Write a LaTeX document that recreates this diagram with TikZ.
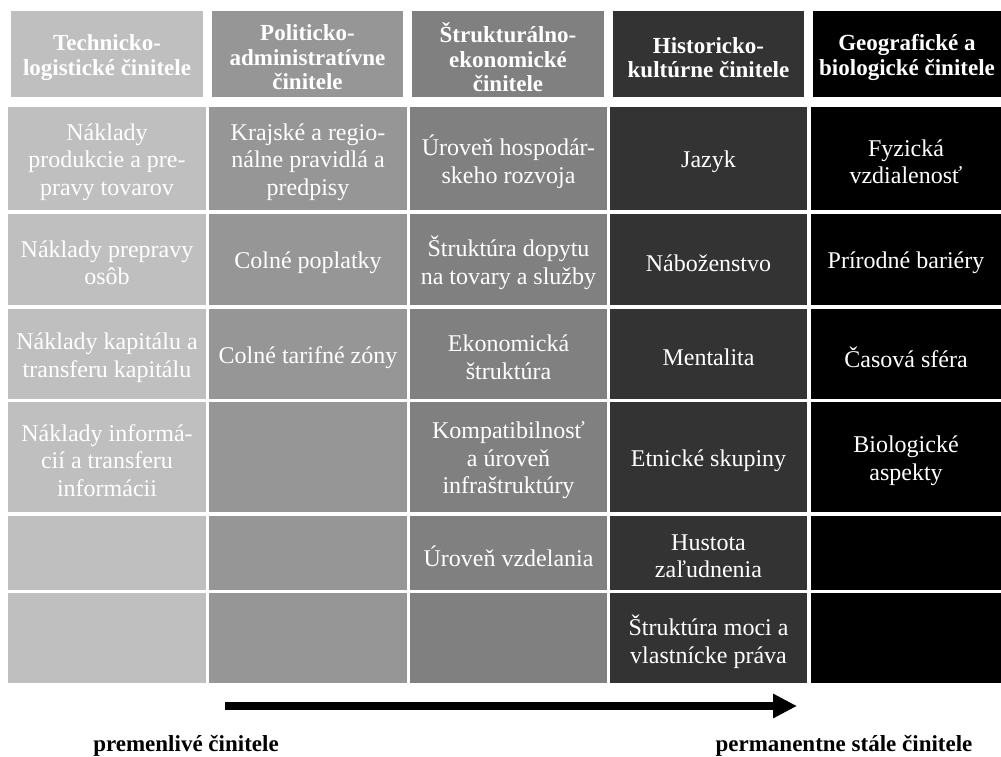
\documentclass[tikz,border=0pt]{standalone}
\usepackage{fontspec}
\setmainfont{Liberation Serif}
\usetikzlibrary{arrows.meta}
\definecolor{cA}{gray}{0.75}
\definecolor{cB}{gray}{0.588}
\definecolor{cC}{gray}{0.502}
\definecolor{cD}{gray}{0.2}
\definecolor{cE}{gray}{0}
\newcommand\mycell[8]{%
  \node[box,#6, minimum width={#4-#2}, minimum height={#5-#3}] (#1) at ({(#2+#4)/2},{(#3+#5)/2}) {};
  \node[#7] (#1t) at ([yshift=-3.5pt]#1.center) {#8};}
\tikzset{
  box/.style={inner sep=0pt, outer sep=0pt, draw=none},
  celltxt/.style={inner sep=0pt, align=center, text=white, font=\fontsize{24}{27.5}\selectfont},
  headtxt/.style={inner sep=0pt, align=center, text=white, font=\bfseries\fontsize{23}{24.5}\selectfont},
  colA/.style={fill=cA}, colB/.style={fill=cB}, colC/.style={fill=cC}, colD/.style={fill=cD}, colE/.style={fill=cE},
  lab/.style={inner sep=0pt, font=\bfseries\fontsize{23}{26}\selectfont},
  bigarrow/.style={line width=8pt, -{Triangle[length=24pt,width=23pt]}}
}
\begin{document}
\begin{tikzpicture}[x=1pt,y=-1pt]
\useasboundingbox[fill=white] (0,0) rectangle (1001,757);
% header
\mycell{h1}{11}{11}{203}{97}{colA}{headtxt}{Technicko-\\logistické činitele}
\mycell{h2}{212}{11}{403}{97}{colB}{headtxt}{Politicko-\\administratívne\\činitele}
\mycell{h3}{412}{11}{604}{97}{colC}{headtxt}{Štrukturálno-\\ekonomické\\činitele}
\mycell{h4}{613}{11}{804}{97}{colD}{headtxt}{Historicko-\\kultúrne činitele}
\mycell{h5}{813}{11}{1001}{97}{colE}{headtxt}{Geografické a\\biologické činitele}
% row 1
\mycell{b11}{8}{107}{206}{210}{colA}{celltxt}{Náklady\\produkcie a pre-\\pravy tovarov}
\mycell{b12}{209}{107}{407}{210}{colB}{celltxt}{Krajské a regio-\\nálne pravidlá a\\predpisy}
\mycell{b13}{410}{107}{607}{210}{colC}{celltxt}{Úroveň hospodár-\\skeho rozvoja}
\mycell{b14}{610}{107}{807}{210}{colD}{celltxt}{Jazyk}
\mycell{b15}{811}{107}{1001}{210}{colE}{celltxt}{Fyzická\\vzdialenosť}
% row 2
\mycell{b21}{8}{214}{206}{305}{colA}{celltxt}{Náklady prepravy\\osôb}
\mycell{b22}{209}{214}{407}{305}{colB}{celltxt}{Colné poplatky}
\mycell{b23}{410}{214}{607}{305}{colC}{celltxt}{Štruktúra dopytu\\na tovary a služby}
\mycell{b24}{610}{214}{807}{305}{colD}{celltxt}{Náboženstvo}
\mycell{b25}{811}{214}{1001}{305}{colE}{celltxt}{Prírodné bariéry}
% row 3
\mycell{b31}{8}{309}{206}{399}{colA}{celltxt}{Náklady kapitálu a\\transferu kapitálu}
\mycell{b32}{209}{309}{407}{399}{colB}{celltxt}{Colné tarifné zóny}
\mycell{b33}{410}{309}{607}{399}{colC}{celltxt}{Ekonomická\\štruktúra}
\mycell{b34}{610}{309}{807}{399}{colD}{celltxt}{Mentalita}
\mycell{b35}{811}{309}{1001}{399}{colE}{celltxt}{Časová sféra}
% row 4
\mycell{b41}{8}{402}{206}{512}{colA}{celltxt}{Náklady informá-\\cií a transferu\\informácii}
\mycell{b42}{209}{402}{407}{512}{colB}{celltxt}{}
\mycell{b43}{410}{402}{607}{512}{colC}{celltxt}{Kompatibilnosť\\a úroveň\\infraštruktúry}
\mycell{b44}{610}{402}{807}{512}{colD}{celltxt}{Etnické skupiny}
\mycell{b45}{811}{402}{1001}{512}{colE}{celltxt}{Biologické\\aspekty}
% row 5
\mycell{b51}{8}{516}{206}{590}{colA}{celltxt}{}
\mycell{b52}{209}{516}{407}{590}{colB}{celltxt}{}
\mycell{b53}{410}{516}{607}{590}{colC}{celltxt}{Úroveň vzdelania}
\mycell{b54}{610}{516}{807}{590}{colD}{celltxt}{Hustota\\zaľudnenia}
\mycell{b55}{811}{516}{1001}{590}{colE}{celltxt}{}
% row 6
\mycell{b61}{8}{593}{206}{683}{colA}{celltxt}{}
\mycell{b62}{209}{593}{407}{683}{colB}{celltxt}{}
\mycell{b63}{410}{593}{607}{683}{colC}{celltxt}{}
\mycell{b64}{610}{593}{807}{683}{colD}{celltxt}{Štruktúra moci a\\vlastnícke práva}
\mycell{b65}{811}{593}{1001}{683}{colE}{celltxt}{}
% arrow and labels
\coordinate (arrS) at (225,706);
\coordinate (arrE) at (797,706);
\draw[bigarrow] (arrS) -- (arrE);
\node[lab] (lab1) at (186,746) {premenlivé činitele};
\node[lab] (lab2) at (844,746) {permanentne stále činitele};
\end{tikzpicture}
\end{document}
